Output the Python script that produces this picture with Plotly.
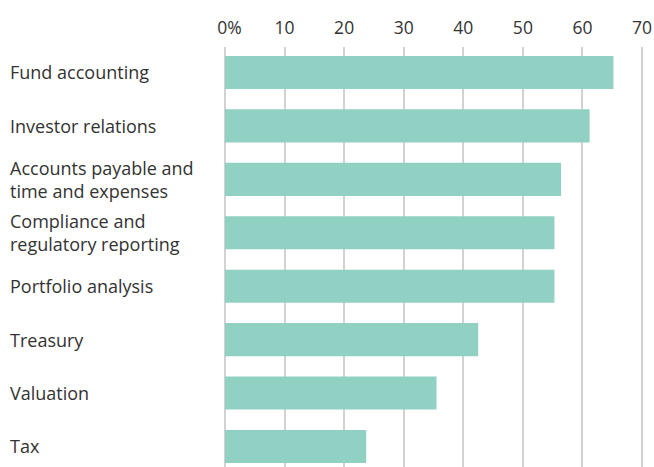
import plotly.graph_objects as go

categories = ["Fund accounting", "Investor relations", "Accounts payable and<br>time and expenses",
              "Compliance and<br>regulatory reporting", "Portfolio analysis", "Treasury", "Valuation", "Tax"]
values = [65.2, 61.2, 56.4, 55.3, 55.3, 42.5, 35.5, 23.7]
tick_vals = [0, 10, 20, 30, 40, 50, 60, 70]
tick_text = ["\u00a0\u00a00%", "10", "20", "30", "40", "50", "60", "70"]

FONT = "Open Sans"
TXT = "#333333"

idx = list(range(len(categories)))
fig = go.Figure(go.Bar(
    x=values, y=idx, orientation="h",
    marker=dict(color="#90D1C3", line=dict(width=0)),
    width=0.62, hoverinfo="skip",
))

L, R, T, B = 219, 6.3, 47, 0
fig.update_layout(
    width=654, height=467,
    margin=dict(l=L, r=R, t=T, b=B, pad=0),
    paper_bgcolor="white", plot_bgcolor="white",
    showlegend=False,
    font=dict(family=FONT, color=TXT),
    xaxis=dict(range=[-1, 71], side="top", tickvals=tick_vals, ticktext=tick_text,
               showgrid=True, gridcolor="#d2d2d2", gridwidth=1.5, zeroline=False,
               showline=False, ticks="", ticklabelstandoff=9,
               tickfont=dict(family=FONT, size=17.5, color=TXT), fixedrange=True),
    yaxis=dict(range=[7.384, -0.477], showticklabels=False, showgrid=False,
               zeroline=False, showline=False, ticks="", fixedrange=True),
)

plot_w = 654 - L - R
for i, c in enumerate(categories):
    fig.add_annotation(
        x=(8 - L) / plot_w, xref="paper", y=i, yref="y",
        text=c, showarrow=False, xanchor="left", yanchor="middle", align="left",
        font=dict(family=FONT, size=18, color=TXT),
    )

fig.write_html("out.html")
